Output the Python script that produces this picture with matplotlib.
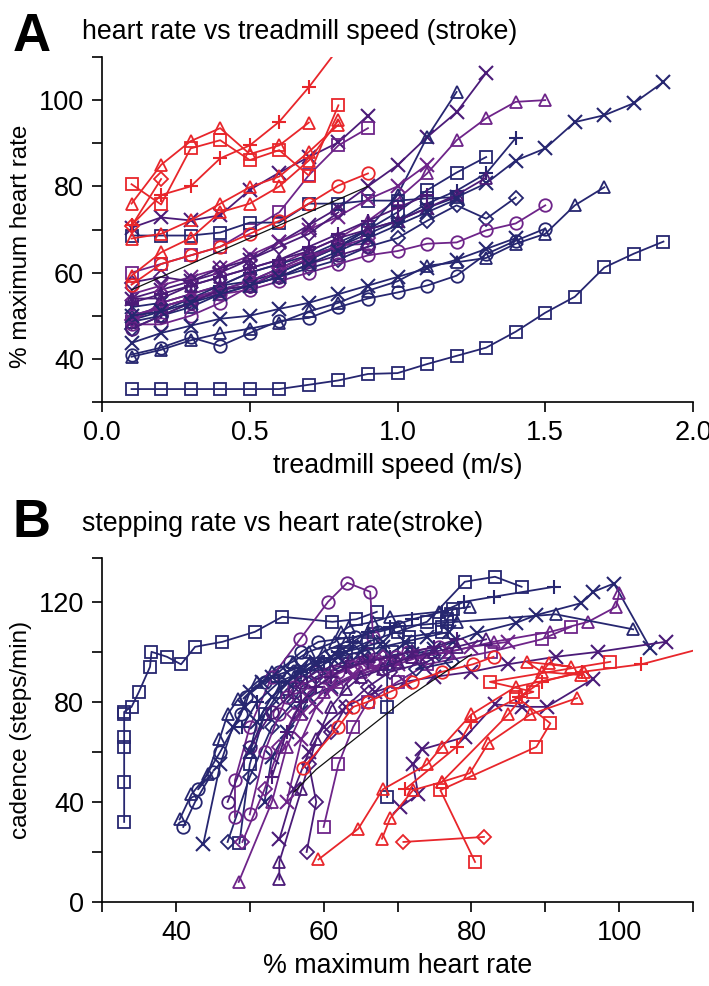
import matplotlib
matplotlib.use("Agg")
import matplotlib.pyplot as plt
from matplotlib.ticker import MultipleLocator, FixedLocator

plt.rcParams['font.family'] = ['Liberation Sans', 'DejaVu Sans']

NAVY = '#262670'
PURP = '#4b1b78'
VIOL = '#6e2489'
RED = '#e8262b'
BLACK = '#111111'

# ---- data: each subject = (marker, colour, %max HR per speed step, cadence per speed step)
speed_step = 0.1

hr_s01 = [33, 33, 33, 33, 33, 33, 34, 35, 36.5, 36.7, 38.8, 40.7, 42.6, 46.3, 50.7, 54.4, 61.2, 64.4, 67.2]
cad_s01 = [32, 48, 62, 66, 75, 76, 78, 84, 94, 100, 98, 95, 102, 104, 108, 114, 112, 113, 116]
hr_s02 = [52, 53, 55, 57, 58, 61, 64, 67, 70, 72, 75, 77.5, 80.7, 86, 88.8, 94.9, 96.5, 99.3, 104.2]
cad_s02 = [40, 58, 68, 76, 82, 86, 90, 93, 96, 99, 101, 104, 107.5, 111.5, 114.7, 119.5, 124, 127.3, 101.5]
hr_s03 = [48.5, 53, 55, 57, 60, 62, 65, 68, 72, 77, 83, 90.7, 95.8, 99.6, 100]
cad_s03 = [8, 40, 62, 75, 84, 88, 92, 95, 98, 100, 104, 108, 112, 118, 123.5]
hr_s04 = [40.5, 42.1, 44.3, 45.9, 47, 48.4, 51, 53, 55.8, 58, 61.6, 62.4, 63.4, 66.7, 69, 75.6, 79.8]
cad_s04 = [33, 43, 51, 65, 75, 81, 88, 92, 96, 100, 104, 108, 110, 112, 114, 116, 118]
hr_s05 = [41, 42.6, 45, 43, 46, 48.8, 49.5, 52, 54, 55.4, 57, 59.3, 64.3, 67.4, 70.2]
cad_s05 = [30, 40, 52, 45, 60, 75, 82, 88, 92, 96, 100, 104, 106, 108, 110]
hr_s06 = [54, 56, 58, 60, 63, 67, 71, 75, 80, 84.9, 91.4, 97.2, 106.3]
cad_s06 = [25, 45, 60, 70, 78, 84, 88, 90, 92, 95, 98, 100, 104]
hr_s07 = [50, 52, 54, 56, 58, 60, 63, 66, 70, 78, 91.4, 101.9]
cad_s07 = [60, 75, 84, 90, 95, 100, 104, 108, 110, 112, 115, 109]
hr_s08 = [70.4, 72.8, 72.1, 73.3, 79.2, 83.2, 86.8, 90.2, 96.4]
cad_s08 = [38, 43, 55, 61, 66, 79, 78, 78, 89]
hr_s09 = [60, 62, 64, 66, 70, 74, 82.6, 89.5, 93.5]
cad_s09 = [30, 55, 70, 80, 88, 95, 100, 105, 110]
hr_s10 = [68.6, 68.6, 68.6, 69.3, 71.6, 71.6, 76, 76, 76.7, 76.7, 77.2, 77.5]
cad_s10 = [42, 78, 95, 100, 104, 106, 108, 110, 112, 113, 115, 117]
hr_s11 = [48.6, 50, 52, 55, 57, 60, 63, 66, 70, 74, 79.1, 83.2, 86.8]
cad_s11 = [23.5, 55, 75, 85, 90, 95, 100, 104, 108, 112, 128, 130, 126]
hr_s12 = [47, 50, 53, 56, 57, 59, 61, 63, 66, 68, 72, 75.6, 72.5, 77.4]
cad_s12 = [24, 50, 70, 80, 86, 90, 92, 95, 97, 98, 100, 99, 93, 96]
hr_s13 = [48, 48, 50, 53, 56.8, 60.6, 63.2, 66.3, 66.7]
cad_s13 = [34, 48.7, 70, 90, 105, 120, 127.6, 124, 106]
hr_s14 = [49, 51, 54, 57, 60, 62, 64, 66, 69, 72, 76, 79, 83, 91.2]
cad_s14 = [70, 80, 88, 92, 96, 100, 104, 108, 110, 113, 116, 120, 122, 126]
hr_s15 = [43.7, 46, 47.7, 49.3, 50, 51.6, 53, 55, 57, 59, 61, 63, 65.5, 68]
cad_s15 = [23, 55, 70, 78, 84, 88, 90, 92, 94, 96, 98, 100, 102, 104]
hr_s16 = [50, 52, 54, 55, 56, 58, 60, 62, 64, 65, 66.7, 67, 69.8, 71.4, 75.6]
cad_s16 = [35, 60, 75, 82, 86, 88, 90, 92, 94, 95, 96, 97, 98, 100, 102]
hr_s17 = [55, 57, 59, 61, 64, 67, 70, 73, 77, 80, 85]
cad_s17 = [40, 65, 78, 85, 90, 93, 95, 98, 100, 102, 104]
hr_s18 = [49, 52, 54, 56, 58, 61, 64, 66, 68]
cad_s18 = [24, 45, 62, 75, 84, 90, 94, 96, 98]
hr_s19 = [53, 55, 57, 59, 61, 63, 66, 69, 72, 75, 78]
cad_s19 = [50, 68, 80, 86, 90, 94, 96, 98, 100, 102, 105]
hr_s20 = [54, 54, 57, 59, 61, 63, 65, 68, 70, 72, 75, 78, 82]
cad_s20 = [9, 16, 45, 65, 78, 85, 90, 93, 96, 98, 100, 102, 105]
hr_s21 = [47, 50, 53, 56, 57, 59, 62, 64, 66]
cad_s21 = [40, 62, 76, 84, 88, 92, 95, 97, 99]
hr_s22 = [57.7, 59, 58, 61, 63, 66, 69, 74]
cad_s22 = [20, 40, 55, 68, 78, 86, 92, 96]
hr_s23 = [50, 51, 53, 55, 57, 59, 62, 65, 68, 71, 74, 77]
cad_s23 = [60, 72, 82, 88, 92, 95, 98, 100, 102, 104, 106, 108]

hr_r1 = [71, 78, 80, 86.5, 89.5, 95, 103, 112]
cad_r1 = [45, 62, 72, 82, 88, 92, 95, 102]
hr_r2 = [80.5, 75.8, 88.8, 90.7, 86.1, 88.4, 82.5, 98.8]
cad_r2 = [16, 44.7, 62, 71.4, 82, 84, 88, 96]
hr_r3 = [76, 85, 90.5, 93.5, 87.5, 89.5, 94.8]
cad_r3 = [48, 75, 95.4, 94, 96, 92, 90.7]
hr_r4 = [59.3, 64.7, 68, 74, 76, 80, 86, 95.3]
cad_r4 = [17, 29.3, 45, 55, 62, 75, 86, 92]
hr_r5 = [67.9, 69, 72.1, 76, 79.8, 82.3, 88, 94.3]
cad_r5 = [25.3, 33.4, 44.7, 48, 51.5, 63.5, 75, 81.5]
hr_r6 = [57.2, 62, 64, 66, 69, 72, 76, 80.2, 83]
cad_r6 = [53.5, 70, 78, 80, 84, 88, 92, 95, 98]
hr_r7 = [70.8, 81.7]
cad_r7 = [24, 26]

hr_mean = [56, 59, 62, 65, 68, 71, 74, 77, 80]
cad_mean = [44, 53, 60, 67, 74, 81, 87, 93, 99]

subjects = [
    ('s', NAVY, hr_s01, cad_s01), ('x', NAVY, hr_s02, cad_s02), ('^', VIOL, hr_s03, cad_s03),
    ('^', NAVY, hr_s04, cad_s04), ('o', NAVY, hr_s05, cad_s05), ('x', PURP, hr_s06, cad_s06),
    ('^', NAVY, hr_s07, cad_s07), ('x', PURP, hr_s08, cad_s08), ('s', VIOL, hr_s09, cad_s09),
    ('s', NAVY, hr_s10, cad_s10), ('s', NAVY, hr_s11, cad_s11), ('D', NAVY, hr_s12, cad_s12),
    ('o', VIOL, hr_s13, cad_s13), ('+', NAVY, hr_s14, cad_s14), ('x', NAVY, hr_s15, cad_s15),
    ('o', VIOL, hr_s16, cad_s16), ('x', VIOL, hr_s17, cad_s17), ('D', VIOL, hr_s18, cad_s18),
    ('+', PURP, hr_s19, cad_s19), ('^', PURP, hr_s20, cad_s20), ('o', PURP, hr_s21, cad_s21),
    ('D', PURP, hr_s22, cad_s22), ('x', NAVY, hr_s23, cad_s23),
    ('+', RED, hr_r1, cad_r1), ('s', RED, hr_r2, cad_r2), ('^', RED, hr_r3, cad_r3),
    ('^', RED, hr_r4, cad_r4), ('^', RED, hr_r5, cad_r5), ('o', RED, hr_r6, cad_r6),
    ('D', RED, hr_r7, cad_r7),
]

W, H = 709, 986
fig = plt.figure(figsize=(W / 100, H / 100), dpi=100)
axA = fig.add_axes([102 / W, 1 - 402 / H, 591 / W, 345 / H])
axB = fig.add_axes([102 / W, 1 - 902 / H, 591 / W, 344 / H])

def style(m):
    if m in ('x', '+'):
        return dict(marker=m, markersize=10, markeredgewidth=1.5)
    if m == 'D':
        return dict(marker=m, markersize=7, markerfacecolor='none', markeredgewidth=1.3)
    return dict(marker=m, markersize=9, markerfacecolor='none', markeredgewidth=1.3)

for m, c, hr, cad in subjects:
    speeds = [round(speed_step * (i + 1), 2) for i in range(len(hr))]
    axA.plot(speeds, hr, color=c, lw=1.3, **style(m))
    axB.plot(hr, cad, color=c, lw=1.3, **style(m))

speeds_mean = [round(speed_step * (i + 1), 2) for i in range(len(hr_mean))]
axA.plot(speeds_mean, hr_mean, color=BLACK, lw=0.9)
axB.plot(hr_mean, cad_mean, color=BLACK, lw=0.9)

for ax in (axA, axB):
    ax.spines['top'].set_visible(False)
    ax.spines['right'].set_visible(False)
    ax.spines['left'].set_linewidth(1.2)
    ax.spines['bottom'].set_linewidth(1.2)
    ax.tick_params(which='both', direction='out', length=7, width=1.2, labelsize=19.5, pad=6)

axA.set_xlim(0, 2.0)
axA.set_ylim(30, 110)
axA.xaxis.set_major_locator(MultipleLocator(0.5))
axA.xaxis.set_major_formatter(plt.FormatStrFormatter('%.1f'))
axA.yaxis.set_major_locator(MultipleLocator(20))
axA.yaxis.set_minor_locator(MultipleLocator(10))
axA.set_xlabel('treadmill speed (m/s)', fontsize=19.3, labelpad=5)
axA.set_ylabel('% maximum heart rate', fontsize=17.5, labelpad=8)
axA.yaxis.set_label_coords(-0.118, 0.45)

axB.set_xlim(30, 110)
axB.set_ylim(0, 137.5)
axB.xaxis.set_major_locator(MultipleLocator(20))
axB.xaxis.set_minor_locator(MultipleLocator(10))
axB.yaxis.set_major_locator(MultipleLocator(40))
axB.yaxis.set_minor_locator(FixedLocator([20, 60, 100, 137.5]))
axB.set_xlabel('% maximum heart rate', fontsize=19.3, labelpad=5)
axB.set_ylabel('cadence (steps/min)', fontsize=17.5, labelpad=8)
axB.yaxis.set_label_coords(-0.118, 0.5)

fig.text(13 / W, 1 - 37 / H, 'A', fontsize=38, fontweight='bold', va='center', ha='left')
fig.text(82 / W, 1 - 32 / H, 'heart rate vs treadmill speed (stroke)', fontsize=19.3, va='center', ha='left')
fig.text(13 / W, 1 - 523 / H, 'B', fontsize=38, fontweight='bold', va='center', ha='left')
fig.text(82 / W, 1 - 524 / H, 'stepping rate vs heart rate(stroke)', fontsize=19.3, va='center', ha='left')

fig.savefig('out.png', dpi=100)
